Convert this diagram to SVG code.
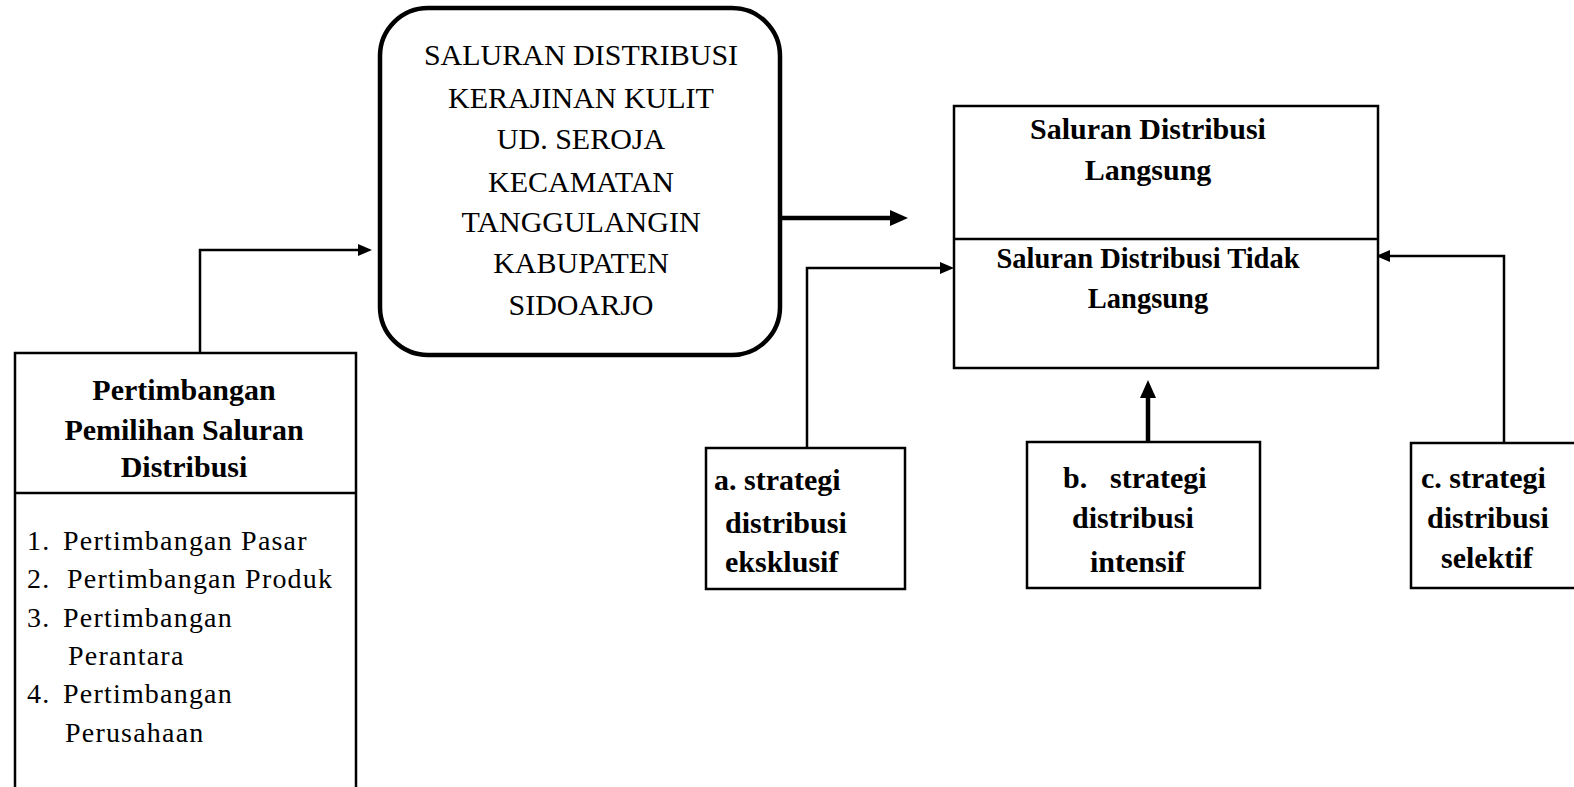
<svg xmlns="http://www.w3.org/2000/svg" width="1574" height="787" viewBox="0 0 1574 787">
<style>
.box{fill:#fff;stroke:#000;stroke-width:2.5}
.rbox{fill:#fff;stroke:#000;stroke-width:4.5}
.ln{fill:none;stroke:#000;stroke-width:2.5}
.thk{fill:none;stroke:#000;stroke-width:4.5}
.t{font-family:"Liberation Serif","Times New Roman",serif;fill:#000}
.cap{font-size:30px;text-anchor:middle}
.b{font-weight:bold;font-size:30px}
.c{text-anchor:middle}
.lst{font-size:28px;letter-spacing:1.2px}
</style>
<defs>
<marker id="ah" markerUnits="userSpaceOnUse" markerWidth="14" markerHeight="12" refX="2" refY="6" orient="auto"><path d="M0,0 L14,6 L0,12 z" fill="#000"/></marker>
<marker id="ahL" markerUnits="userSpaceOnUse" markerWidth="18" markerHeight="18" refX="2" refY="9" orient="auto"><path d="M0,1 L18,9 L0,17 z" fill="#000"/></marker>
</defs>
<g id="connectors">
<path class="ln" d="M200,353 V250 H360" marker-end="url(#ah)"/>
<path class="thk" d="M780,218 H892" marker-end="url(#ahL)"/>
<path class="ln" d="M807,448 V268 H942" marker-end="url(#ah)"/>
<path class="thk" d="M1148,442 V396" marker-end="url(#ahL)"/>
<path class="ln" d="M1504,443 V256 H1388" marker-end="url(#ah)"/>
</g>
<g id="pertimbangan">
<rect class="box" x="15" y="353" width="341" height="445"/>
<line class="ln" x1="15" y1="493" x2="356" y2="493"/>
<text class="t b c" x="184" y="400">Pertimbangan</text>
<text class="t b c" x="184" y="440">Pemilihan Saluran</text>
<text class="t b c" x="184" y="477">Distribusi</text>
<text class="t lst" x="27" y="550">1.<tspan x="63">Pertimbangan Pasar</tspan></text>
<text class="t lst" x="27" y="588">2.<tspan x="67">Pertimbangan Produk</tspan></text>
<text class="t lst" x="27" y="627">3.<tspan x="63">Pertimbangan</tspan></text>
<text class="t lst" x="68" y="665">Perantara</text>
<text class="t lst" x="27" y="703">4.<tspan x="63">Pertimbangan</tspan></text>
<text class="t lst" x="65" y="742">Perusahaan</text>
</g>
<g id="saluran-utama">
<rect class="rbox" x="380" y="8" width="400" height="347" rx="48" ry="48"/>
<text class="t cap" x="581" y="65">SALURAN DISTRIBUSI</text>
<text class="t cap" x="581" y="108">KERAJINAN KULIT</text>
<text class="t cap" x="581" y="149">UD. SEROJA</text>
<text class="t cap" x="581" y="192">KECAMATAN</text>
<text class="t cap" x="581" y="232">TANGGULANGIN</text>
<text class="t cap" x="581" y="273">KABUPATEN</text>
<text class="t cap" x="581" y="315">SIDOARJO</text>
</g>
<g id="saluran-jenis">
<rect class="box" x="954" y="106" width="424" height="262"/>
<line class="ln" x1="954" y1="239" x2="1378" y2="239"/>
<text class="t b c" x="1148" y="139">Saluran Distribusi</text>
<text class="t b c" x="1148" y="180">Langsung</text>
<text class="t b c" x="1148" y="268" style="font-size:28.5px">Saluran Distribusi Tidak</text>
<text class="t b c" x="1148" y="308" style="font-size:28.5px">Langsung</text>
</g>
<g id="strategi-a">
<rect class="box" x="706" y="448" width="199" height="141"/>
<text class="t b" x="714" y="490">a. strategi</text>
<text class="t b" x="725" y="533">distribusi</text>
<text class="t b" x="725" y="572">eksklusif</text>
</g>
<g id="strategi-b">
<rect class="box" x="1027" y="442" width="233" height="146"/>
<text class="t b" x="1063" y="488">b.<tspan x="1110">strategi</tspan></text>
<text class="t b" x="1072" y="528">distribusi</text>
<text class="t b" x="1090" y="572">intensif</text>
</g>
<g id="strategi-c">
<rect class="box" x="1411" y="443" width="180" height="145"/>
<text class="t b" x="1421" y="488">c. strategi</text>
<text class="t b" x="1427" y="528">distribusi</text>
<text class="t b" x="1441" y="568">selektif</text>
</g>
</svg>
